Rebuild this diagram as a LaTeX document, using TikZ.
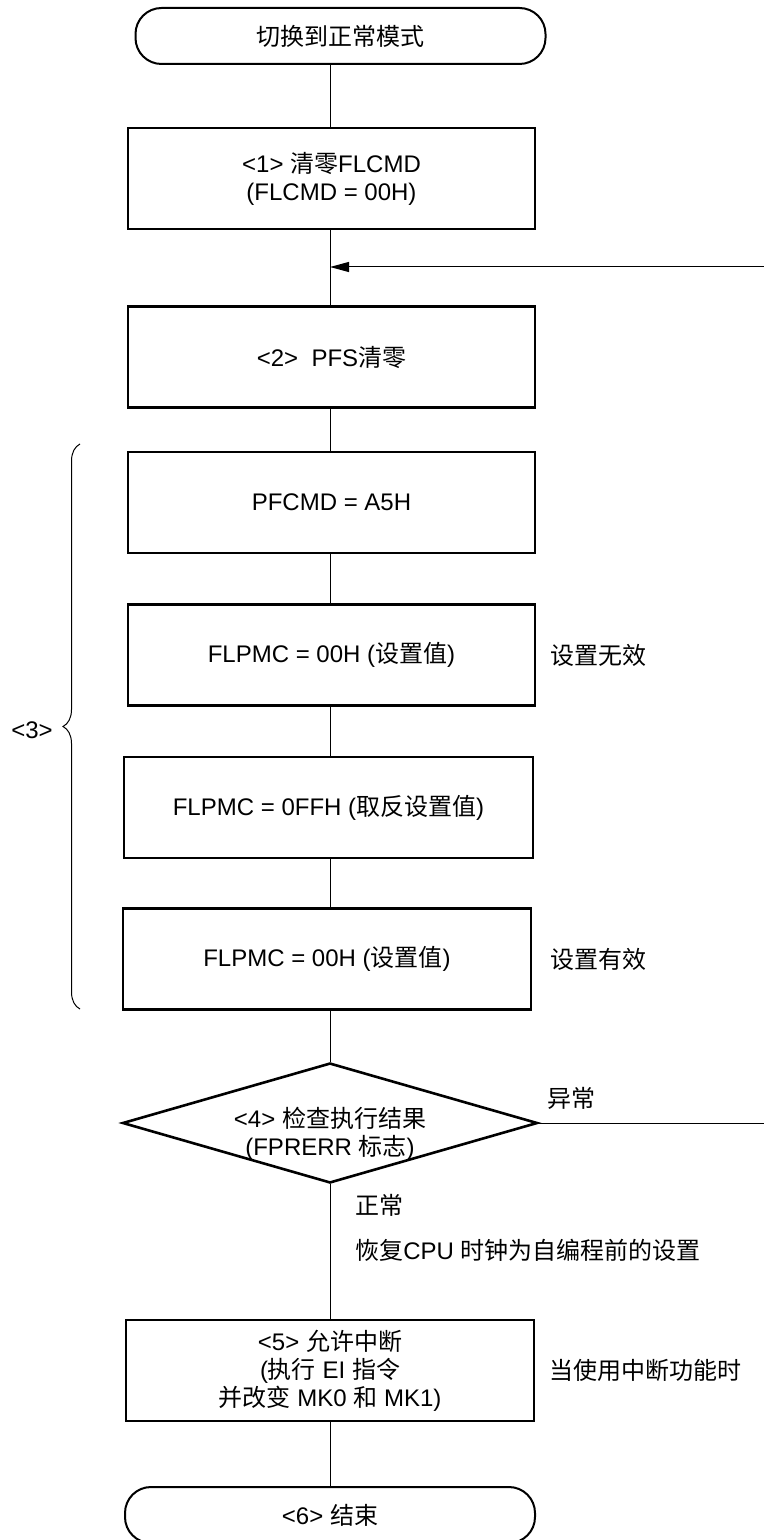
\documentclass[tikz,border=0pt]{standalone}
\usepackage{fontspec}
\setmainfont{Liberation Sans}
\newfontfamily\zh{Noto Sans CJK SC}
\usepackage{tikz}
\usetikzlibrary{arrows.meta}
\usetikzlibrary{shapes.geometric}
\usetikzlibrary{positioning}
\usetikzlibrary{decorations.pathreplacing}
\tikzset{
  caixa/.style={draw, line width=1.3pt, align=center, minimum width=#1, minimum height=50.5pt, inner sep=3pt, font=\fontsize{12}{14}\selectfont},
  caixa/.default=203.5pt,
  terminal/.style={draw, line width=1pt, rounded corners=13pt, minimum width=#1, minimum height=28pt, inner sep=3pt, font=\fontsize{12}{14}\selectfont},
  terminal/.default=205pt,
  decisao/.style={draw, diamond, line width=1.3pt, minimum width=207.5pt, minimum height=60pt, inner sep=0pt},
  nota/.style={inner sep=0pt, align=center, font=\fontsize{12}{14}\selectfont},
  linha/.style={line width=0.5pt},
  seta/.style={line width=0.5pt, -{Triangle[length=9.5pt, width=5pt]}},
  chave/.style={line width=0.5pt, decorate, decoration={brace, amplitude=8.5pt}},
}
\begin{document}
\begin{tikzpicture}[x=0.5pt, y=-0.5pt, node distance=7pt]
  \useasboundingbox (0,0) rectangle (764,1540);

  \node[terminal] (s0) at (340.5,36) {\zh 切换到正常模式};
  \node[caixa] (c1) at (331.5,178.5) {<1> {\zh 清零}FLCMD\\(FLCMD = 00H)};
  \node[caixa] (c2) at (331.5,357) {<2> \ PFS{\zh 清零}};
  \node[caixa] (c3a) at (331.5,502.5) {PFCMD = A5H};
  \node[caixa] (c3b) at (331.5,655) {FLPMC = 00H ({\zh 设置值})};
  \node[caixa=204.5pt] (c3c) at (328.5,807.5) {FLPMC = 0FFH ({\zh 取反设置值})};
  \node[caixa=204pt] (c3d) at (327,959) {FLPMC = 00H ({\zh 设置值})};
  \node[decisao] (d4) at (330,1123) {};
  \node[nota] (t4) at (330,1134) {<4> {\zh 检查执行结果}\\(FPRERR {\zh 标志})};
  \node[caixa=204pt] (c5) at (330,1370.5) {<5> {\zh 允许中断}\\({\zh 执行} EI {\zh 指令}\\{\zh 并改变} MK0 {\zh 和} MK1)};
  \node[terminal] (s6) at (330,1515) {<6> {\zh 结束}};

  % notas ao lado
  \node[nota, right=of c3b] (n3b) {\zh 设置无效};
  \node[nota, right=9pt of c3d] (n3d) {\zh 设置有效};
  \node[nota, right=of c5] (n5) {\zh 当使用中断功能时};
  \node[nota, anchor=west] (n4a) at (547,1098) {\zh 异常};
  \node[nota, anchor=west] (n4b) at (355,1205) {\zh 正常};
  \node[nota, anchor=west] (n4c) at (355,1250) {{\zh 恢复}CPU {\zh 时钟为自编程前的设置}};

  % chave do passo 3
  \coordinate (k1) at (80,1009);
  \coordinate (k2) at (80,444);
  \draw[chave] (k1) -- (k2);
  \node[nota] (n3) at (32,730) {<3>};

  % fluxo principal
  \foreach \a/\b in {s0/c1, c1/c2, c2/c3a, c3a/c3b, c3b/c3c, c3c/c3d, c3d/d4, d4/c5, c5/s6}
    \draw[linha] (d4.center |- \a.south) -- (d4.center |- \b.north);

  % retorno (erro)
  \coordinate (volta) at (767,267);
  \coordinate (junta) at (330,267);
  \draw[seta] (d4.east) -| (volta) -- (junta);
\end{tikzpicture}
\end{document}
